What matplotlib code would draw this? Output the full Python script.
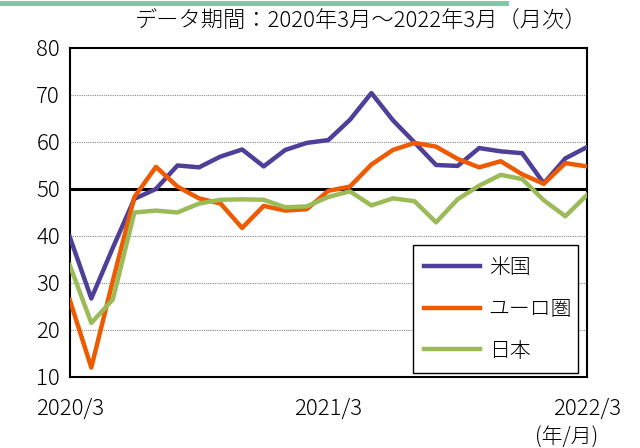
import matplotlib.pyplot as plt
from matplotlib.lines import Line2D

plt.rcParams['font.family'] = ['Noto Sans CJK JP', 'DejaVu Sans']
plt.rcParams['font.weight'] = 'light'

# monthly data 2020/3 - 2022/3
months = list(range(25))
tick_pos = [0, 12, 24]
tick_labels = ['2020/3', '2021/3', '2022/3']

us = [39.8, 26.7, 37.5, 47.9, 50.0, 55.0, 54.6, 56.9, 58.4, 54.8, 58.3, 59.8, 60.4,
      64.7, 70.4, 64.6, 59.9, 55.1, 54.9, 58.7, 58.0, 57.6, 51.2, 56.5, 58.9]
euro = [26.4, 12.0, 30.5, 48.3, 54.7, 50.5, 48.0, 46.9, 41.7, 46.4, 45.4, 45.7, 49.6,
        50.5, 55.2, 58.3, 59.8, 59.0, 56.4, 54.6, 55.9, 53.1, 51.1, 55.5, 54.8]
japan = [33.8, 21.5, 26.5, 45.0, 45.4, 45.0, 46.9, 47.7, 47.8, 47.7, 46.1, 46.3, 48.3,
         49.5, 46.5, 48.0, 47.4, 42.9, 47.8, 50.7, 53.0, 52.1, 47.6, 44.2, 48.7]

fig = plt.figure(figsize=(6.4, 4.48), dpi=100)
ax = fig.add_axes([0.109, 0.1585, 0.808, 0.7345])

# green bar on top
fig.add_artist(Line2D([0, 0.79], [0.994, 0.994], color='#7dc8a3', lw=3.5,
                      transform=fig.transFigure))

for y in [20, 30, 40, 60, 70]:
    ax.axhline(y, color='#888888', lw=0.8, ls=(0, (1, 1)), zorder=1)
ax.axhline(50, color='black', lw=2.2, zorder=2)

ax.plot(months, us, color='#4f3f99', lw=3.2, label='米国', zorder=3)
ax.plot(months, euro, color='#ee5a00', lw=3.2, label='ユーロ圏', zorder=3)
ax.plot(months, japan, color='#9bbb59', lw=3.2, label='日本', zorder=3)

ax.set_xlim(0, 24)
ax.set_ylim(10, 80)
ax.set_yticks(range(10, 81, 10))
ax.set_xticks(tick_pos)
ax.set_xticklabels(tick_labels)
ax.tick_params(length=0, labelsize=16)
ax.tick_params(axis='y', pad=7)
ax.tick_params(axis='x', pad=15)
for s in ax.spines.values():
    s.set_linewidth(1.5)

leg = ax.legend(loc='lower left', bbox_to_anchor=(0.663, 0.012, 0.32, 0.404),
                mode='expand', borderaxespad=0, fontsize=15, handlelength=2.7,
                handletextpad=0.4, labelspacing=0.95, borderpad=0.55,
                fancybox=False, edgecolor='black', framealpha=1)
leg.get_frame().set_linewidth(1.0)

fig.text(0.918, 0.95, 'データ期間：2020年3月～2022年3月（月次）', ha='right', va='center',
         fontsize=16)
fig.text(0.885, 0.022, '(年/月)', ha='center', va='center', fontsize=15)

fig.savefig('out.png', dpi=100)
